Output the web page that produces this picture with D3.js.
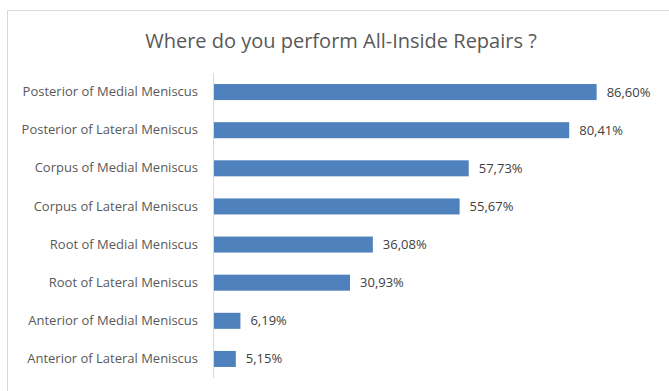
<!DOCTYPE html>
<html>
<head>
<meta charset="utf-8">
<script src="https://cdn.jsdelivr.net/npm/d3@7"></script>
<style>
    body { margin: 0; background: #fff; }
    svg { display: block; font-family: "Open Sans", sans-serif; }
</style>
</head>
<body>
<div class="chart"></div>
<script>
// chart data
var categories = [
    "Posterior of Medial Meniscus",
    "Posterior of Lateral Meniscus",
    "Corpus of Medial Meniscus",
    "Corpus of Lateral Meniscus",
    "Root of Medial Meniscus",
    "Root of Lateral Meniscus",
    "Anterior of Medial Meniscus",
    "Anterior of Lateral Meniscus"
];
var values = [86.60, 80.41, 57.73, 55.67, 36.08, 30.93, 6.19, 5.15];
var valueLabels = ["86,60%", "80,41%", "57,73%", "55,67%", "36,08%", "30,93%", "6,19%", "5,15%"];
var title = "Where do you perform All-Inside Repairs ?";

var width = 669,
    height = 391;

var data = categories.map(function (c, i) {
    return {name: c, value: values[i], label: valueLabels[i]};
});

var svg = d3.select('.chart').append('svg')
    .attr('width', width)
    .attr('height', height);

// chart frame
svg.append('rect')
    .attr('x', 7.5)
    .attr('y', 10.5)
    .attr('width', 700)
    .attr('height', 400)
    .attr('fill', '#fff')
    .attr('stroke', '#d9d9d9');

svg.append('text')
    .attr('x', 341)
    .attr('y', 48)
    .attr('text-anchor', 'middle')
    .attr('font-size', 20)
    .attr('fill', '#595959')
    .text(title);

var x = d3.scaleLinear()
    .domain([0, 100])
    .range([213, 656]);

var y = d3.scaleBand()
    .domain(categories)
    .range([73, 378])
    .paddingInner(0.58)
    .paddingOuter(0.29);

// bars
svg.selectAll('.bar')
    .data(data)
    .enter()
    .append('rect')
    .attr('class', 'bar')
    .attr('x', x(0))
    .attr('y', function (d) { return y(d.name); })
    .attr('width', function (d) { return x(d.value) - x(0); })
    .attr('height', y.bandwidth())
    .attr('fill', '#4f81bd');

// category axis
var yAxis = svg.append('g')
    .attr('transform', 'translate(' + x(0) + ',0)')
    .call(d3.axisLeft(y).tickSize(0).tickPadding(15));
yAxis.select('.domain').attr('stroke', '#d9d9d9').attr('d', 'M0.5,73V378');
yAxis.selectAll('text')
    .attr('font-size', 13)
    .attr('font-family', '"Open Sans", sans-serif')
    .attr('fill', '#595959');

// value labels
svg.selectAll('.val')
    .data(data)
    .enter()
    .append('text')
    .attr('class', 'val')
    .attr('x', function (d) { return x(d.value) + 10; })
    .attr('y', function (d) { return y(d.name) + y.bandwidth() / 2; })
    .attr('dy', '0.35em')
    .attr('font-size', 13)
    .attr('fill', '#404040')
    .text(function (d) { return d.label; });
</script>
</body>
</html>
